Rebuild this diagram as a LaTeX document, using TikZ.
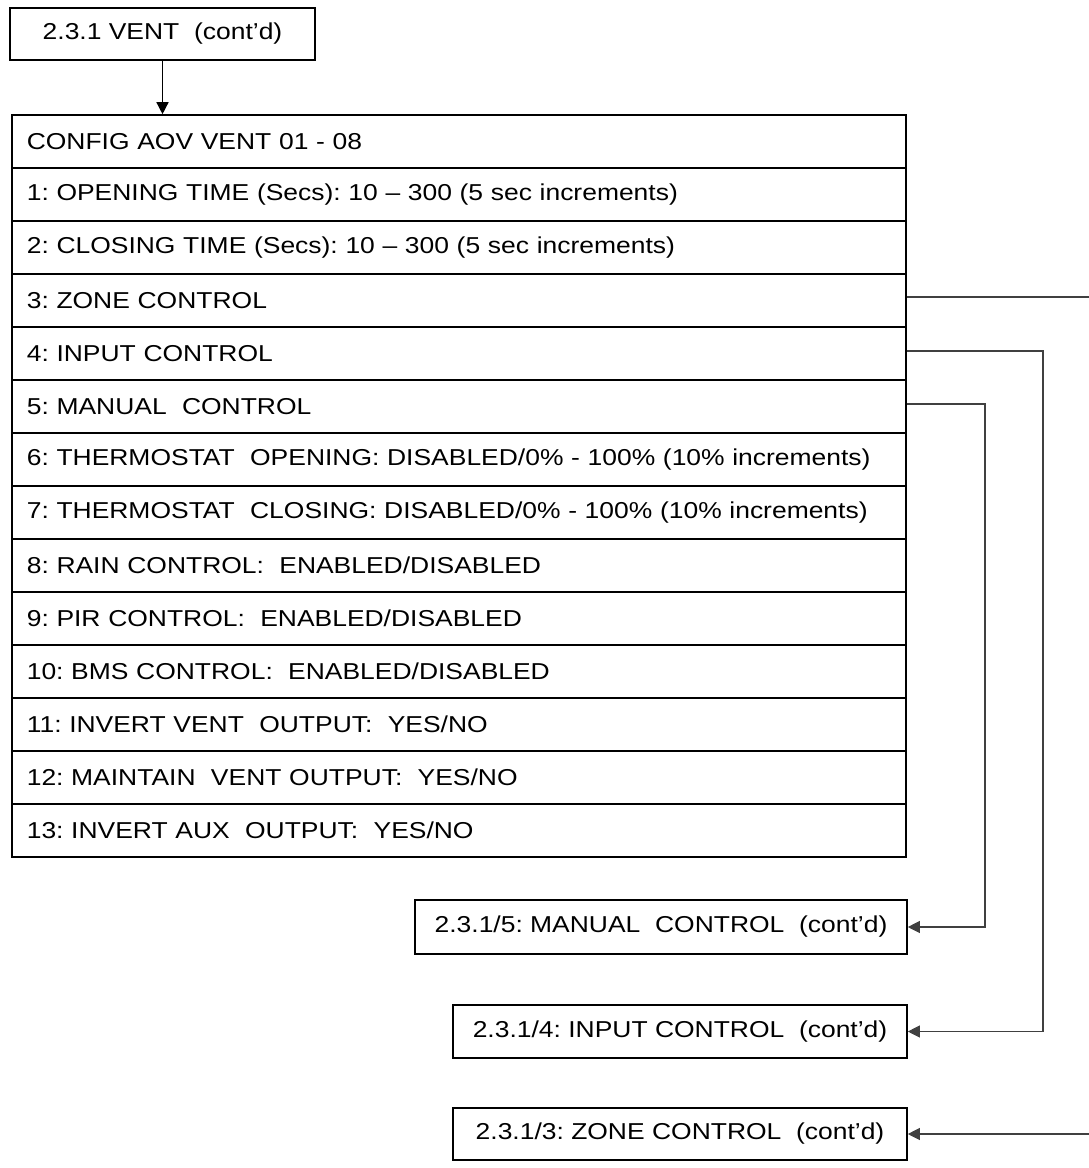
\documentclass[tikz,border=0pt]{standalone}
\usepackage{fontspec}
\setmainfont{Liberation Sans}[FakeStretch=1.15]
\usetikzlibrary{arrows.meta}
\begin{document}
\frenchspacing
\begin{tikzpicture}[x=1pt,y=-1pt,
  box/.style={draw=black,line width=1.6pt,rectangle,inner sep=0pt,font=\fontsize{23}{26}\selectfont},
  row/.style={box,anchor=west,minimum width=894pt,minimum height=53pt,text width=864pt,align=left},
  conn/.style={draw=black!75,line width=1.1pt},
  tip/.style={-{Triangle[length=12pt,width=12pt]}}]
\useasboundingbox (0,0) rectangle (1088,1168);
\node[box,minimum width=305pt,minimum height=52pt] (top) at (162.5,34) {2.3.1 VENT\ \ (cont'd)};
\foreach \i/\t in {0/{CONFIG AOV VENT 01 - 08},
  1/{1: OPENING TIME (Secs): 10 -- 300 (5 sec increments)},
  2/{2: CLOSING TIME (Secs): 10 -- 300 (5 sec increments)},
  3/{3: ZONE CONTROL},
  4/{4: INPUT CONTROL},
  5/{5: MANUAL\ \ CONTROL},
  6/{6: THERMOSTAT\ \ OPENING: DISABLED/0\% - 100\% (10\% increments)},
  7/{7: THERMOSTAT\ \ CLOSING: DISABLED/0\% - 100\% (10\% increments)},
  8/{8: RAIN CONTROL:\ \ ENABLED/DISABLED},
  9/{9: PIR CONTROL:\ \ ENABLED/DISABLED},
  10/{10: BMS CONTROL:\ \ ENABLED/DISABLED},
  11/{11: INVERT VENT\ \ OUTPUT:\ \ YES/NO},
  12/{12: MAINTAIN\ \ VENT OUTPUT:\ \ YES/NO},
  13/{13: INVERT AUX\ \ OUTPUT:\ \ YES/NO}}{
  \node[row] (r\i) at (11,{141.5+53*\i}) {\t};
}
\node[box,minimum width=492pt,minimum height=54pt] (man) at (661,927) {2.3.1/5: MANUAL\ \ CONTROL\ \ (cont'd)};
\node[box,minimum width=454pt,minimum height=53pt] (inp) at (680,1031.5) {2.3.1/4: INPUT CONTROL\ \ (cont'd)};
\node[box,minimum width=454pt,minimum height=52pt] (zon) at (680,1134) {2.3.1/3: ZONE CONTROL\ \ (cont'd)};
\draw[conn,tip,draw=black,line width=1.4pt] (top.south) -- (r0.north -| top.south);
\coordinate (z1) at (1090,297);
\coordinate (z2) at (1090,1134);
\coordinate (i1) at (1043,351);
\coordinate (m1) at (985,404);
\draw[conn] (r3.east |- z1) -- (z1);
\draw[conn,tip] (z2) -- (zon.east);
\draw[conn,tip] (r4.east |- i1) -- (i1) |- (inp.east);
\draw[conn,tip] (r5.east |- m1) -- (m1) |- (man.east);
\end{tikzpicture}
\end{document}
